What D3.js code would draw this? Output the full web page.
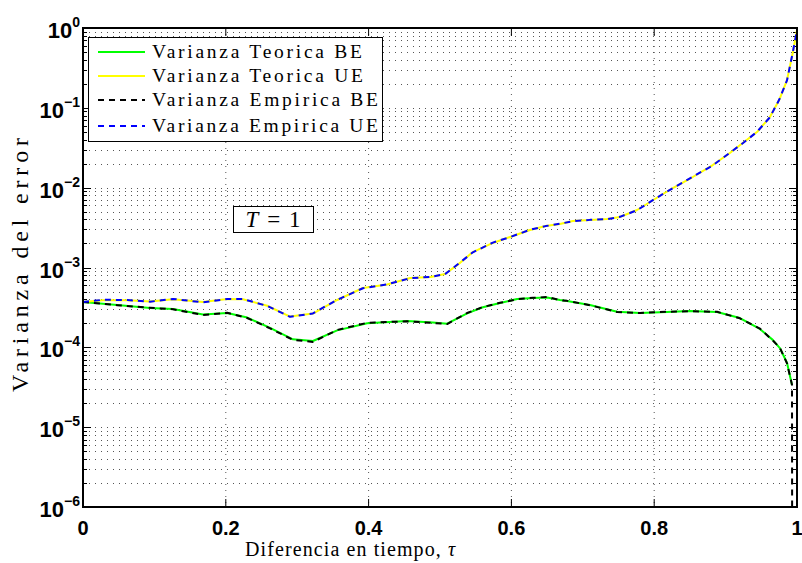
<!DOCTYPE html>
<html>
<head>
<meta charset="utf-8">
<script src="https://cdn.jsdelivr.net/npm/d3@7"></script>
<style>
  html, body { margin: 0; padding: 0; background: #fff; }
  svg { display: block; }
</style>
</head>
<body>
<svg id="chart" width="802" height="563"></svg>
<script>
// Diferencia en tiempo (tau) sample points
const tauTeoUE = [0.000, 0.028, 0.062, 0.094, 0.126, 0.168, 0.202, 0.224, 0.258, 0.290, 0.322, 0.356, 0.392, 0.426, 0.458, 0.487, 0.507, 0.524, 0.546, 0.574, 0.598, 0.626, 0.648, 0.668, 0.686, 0.710, 0.734, 0.752, 0.776, 0.801, 0.826, 0.854, 0.882, 0.906, 0.924, 0.944, 0.962, 0.975, 0.986, 0.994, 1.000];
const varTeoUE = [3.70e-4, 3.90e-4, 3.88e-4, 3.76e-4, 4.00e-4, 3.70e-4, 4.03e-4, 4.00e-4, 3.32e-4, 2.43e-4, 2.65e-4, 3.92e-4, 5.54e-4, 6.12e-4, 7.38e-4, 7.60e-4, 8.29e-4, 1.07e-3, 1.56e-3, 2.03e-3, 2.41e-3, 2.95e-3, 3.31e-3, 3.51e-3, 3.82e-3, 3.93e-3, 4.05e-3, 4.29e-3, 5.25e-3, 7.21e-3, 9.90e-3, 1.36e-2, 1.92e-2, 2.72e-2, 3.62e-2, 4.97e-2, 7.67e-2, 0.125, 0.223, 0.486, 0.944];
const varEmpUE = [3.70e-4, 3.94e-4, 3.92e-4, 3.73e-4, 4.04e-4, 3.66e-4, 4.03e-4, 4.03e-4, 3.30e-4, 2.41e-4, 2.66e-4, 3.94e-4, 5.50e-4, 6.15e-4, 7.35e-4, 7.62e-4, 8.25e-4, 1.08e-3, 1.55e-3, 2.05e-3, 2.40e-3, 2.97e-3, 3.30e-3, 3.53e-3, 3.80e-3, 3.95e-3, 4.03e-3, 4.31e-3, 5.22e-3, 7.25e-3, 9.85e-3, 1.37e-2, 1.90e-2, 2.74e-2, 3.60e-2, 5.00e-2, 7.60e-2, 0.126, 0.221, 0.490, 0.940];

const tauTeoBE = [0.000, 0.048, 0.094, 0.126, 0.168, 0.202, 0.230, 0.262, 0.294, 0.322, 0.356, 0.398, 0.454, 0.490, 0.510, 0.538, 0.560, 0.584, 0.608, 0.630, 0.650, 0.668, 0.678, 0.710, 0.748, 0.780, 0.818, 0.850, 0.888, 0.920, 0.948, 0.966, 0.976, 0.986, 0.993];
const varTeoBE = [3.70e-4, 3.39e-4, 3.11e-4, 3.02e-4, 2.58e-4, 2.69e-4, 2.36e-4, 1.75e-4, 1.26e-4, 1.20e-4, 1.63e-4, 2.00e-4, 2.14e-4, 2.04e-4, 1.98e-4, 2.66e-4, 3.18e-4, 3.59e-4, 4.03e-4, 4.15e-4, 4.22e-4, 3.92e-4, 3.80e-4, 3.39e-4, 2.79e-4, 2.70e-4, 2.77e-4, 2.85e-4, 2.77e-4, 2.33e-4, 1.70e-4, 1.24e-4, 9.8e-5, 6.4e-5, 3.37e-5];
// the empirical BE estimate collapses at the last step, so one more point is appended
const tauEmpBE = [0.000, 0.048, 0.094, 0.126, 0.168, 0.202, 0.230, 0.262, 0.294, 0.322, 0.356, 0.398, 0.454, 0.490, 0.510, 0.538, 0.560, 0.584, 0.608, 0.630, 0.650, 0.668, 0.678, 0.710, 0.748, 0.780, 0.818, 0.850, 0.888, 0.920, 0.948, 0.966, 0.976, 0.986, 0.993, 0.9935];
const varEmpBE = [3.70e-4, 3.37e-4, 3.13e-4, 3.00e-4, 2.54e-4, 2.71e-4, 2.33e-4, 1.73e-4, 1.24e-4, 1.17e-4, 1.65e-4, 2.03e-4, 2.12e-4, 2.02e-4, 1.96e-4, 2.69e-4, 3.20e-4, 3.61e-4, 4.00e-4, 4.17e-4, 4.27e-4, 3.90e-4, 3.82e-4, 3.37e-4, 2.77e-4, 2.69e-4, 2.79e-4, 2.83e-4, 2.79e-4, 2.31e-4, 1.72e-4, 1.22e-4, 9.9e-5, 6.3e-5, 3.40e-5, 1e-9];

const xTicks = [0, 0.2, 0.4, 0.6, 0.8, 1];
const xTickLabels = ["0", "0.2", "0.4", "0.6", "0.8", "1"];
const yExponents = [0, -1, -2, -3, -4, -5, -6];

const legendLabels = ["Varianza Teorica BE", "Varianza Teorica UE", "Varianza Empirica BE", "Varianza Empirica UE"];
const xLabel = "Diferencia en tiempo, ";
const yLabel = "Varianza del error";

const series = [
  { x: tauTeoBE, y: varTeoBE, color: "#00ff00", dash: null },
  { x: tauTeoUE, y: varTeoUE, color: "#ffff00", dash: null },
  { x: tauEmpBE, y: varEmpBE, color: "#000000", dash: "6,5" },
  { x: tauTeoUE, y: varEmpUE, color: "#0000ff", dash: "6,5" }
];

const svg = d3.select("#chart");
const plot = { left: 83, right: 797, top: 28, bottom: 507 };

const x = d3.scaleLinear().domain([0, 1]).range([plot.left, plot.right]);
const y = d3.scaleLog().domain([1e-6, 1]).range([plot.bottom, plot.top]);

svg.append("defs").append("clipPath").attr("id", "clip")
  .append("rect")
  .attr("x", plot.left).attr("y", plot.top)
  .attr("width", plot.right - plot.left).attr("height", plot.bottom - plot.top);

// dotted grid
const grid = svg.append("g")
  .attr("stroke", "#555").attr("stroke-width", 1)
  .attr("stroke-dasharray", "1,5").attr("fill", "none");

xTicks.slice(1, -1).forEach(t => {
  grid.append("line")
    .attr("x1", x(t)).attr("x2", x(t))
    .attr("y1", plot.top).attr("y2", plot.bottom);
});

const minorVals = [];
for (let e = -6; e < 0; e++) {
  for (let k = 1; k <= 9; k++) {
    const v = k * Math.pow(10, e);
    if (e === -6 && k === 1) continue;
    minorVals.push(v);
  }
}
minorVals.forEach(v => {
  grid.append("line")
    .attr("x1", plot.left).attr("x2", plot.right)
    .attr("y1", Math.round(y(v)) + 0.5).attr("y2", Math.round(y(v)) + 0.5);
});

// ticks on all four sides
const ticks = svg.append("g").attr("stroke", "#000").attr("stroke-width", 1);
xTicks.forEach(t => {
  ticks.append("line").attr("x1", x(t)).attr("x2", x(t)).attr("y1", plot.bottom).attr("y2", plot.bottom - 8);
  ticks.append("line").attr("x1", x(t)).attr("x2", x(t)).attr("y1", plot.top).attr("y2", plot.top + 8);
});
minorVals.forEach(v => {
  const major = Math.abs(Math.log10(v) - Math.round(Math.log10(v))) < 1e-9;
  const len = major ? 8 : 4;
  const yy = Math.round(y(v)) + 0.5;
  ticks.append("line").attr("x1", plot.left).attr("x2", plot.left + len).attr("y1", yy).attr("y2", yy);
  ticks.append("line").attr("x1", plot.right).attr("x2", plot.right - len).attr("y1", yy).attr("y2", yy);
});

// curves
const line = d3.line().x(d => x(d[0])).y(d => y(Math.max(d[1], 1e-9)));
const curves = svg.append("g").attr("clip-path", "url(#clip)");
series.forEach(s => {
  const pts = s.x.map((t, i) => [t, s.y[i]]);
  curves.append("path")
    .datum(pts)
    .attr("d", line)
    .attr("fill", "none")
    .attr("stroke", s.color)
    .attr("stroke-width", 2)
    .attr("stroke-linejoin", "round")
    .attr("stroke-dasharray", s.dash);
});

// axes box
svg.append("rect")
  .attr("x", plot.left).attr("y", plot.top)
  .attr("width", plot.right - plot.left).attr("height", plot.bottom - plot.top)
  .attr("fill", "none").attr("stroke", "#000").attr("stroke-width", 2);

// x tick labels
svg.append("g")
  .selectAll("text").data(xTicks).join("text")
  .attr("x", d => x(d)).attr("y", 535)
  .attr("text-anchor", "middle")
  .attr("font-family", "'Liberation Sans', Arial, sans-serif")
  .attr("font-weight", "bold").attr("font-size", 20)
  .text((d, i) => xTickLabels[i]);

// y tick labels 10^n
const yl = svg.append("g")
  .attr("font-family", "'Liberation Sans', Arial, sans-serif")
  .attr("font-weight", "bold");
yExponents.forEach(e => {
  const yy = y(Math.pow(10, e));
  const t = yl.append("text")
    .attr("x", 80).attr("y", yy + 10)
    .attr("text-anchor", "end");
  t.append("tspan").attr("font-size", 22).text("10");
  t.append("tspan").attr("font-size", 14).attr("dy", -11)
    .text(e === 0 ? "0" : "\u2212" + Math.abs(e));
});

// axis labels
const serif = "'Liberation Serif', 'Times New Roman', serif";
const xl = svg.append("text")
  .attr("x", 245).attr("y", 556)
  .attr("font-family", serif).attr("font-size", 20)
  .attr("letter-spacing", 1.1);
xl.append("tspan").text(xLabel);
xl.append("tspan").attr("font-style", "italic").text("\u03c4");

svg.append("text")
  .attr("transform", "translate(28,265) rotate(-90)")
  .attr("text-anchor", "middle")
  .attr("font-family", serif).attr("font-size", 24)
  .attr("textLength", 254).attr("lengthAdjust", "spacing")
  .text(yLabel);

// legend
const lg = svg.append("g");
lg.append("rect")
  .attr("x", 88.5).attr("y", 37.5).attr("width", 294).attr("height", 104)
  .attr("fill", "#fff").attr("stroke", "#000").attr("stroke-width", 1);
const rowY = [52, 76, 100, 126];
const textW = [210, 211, 226, 226];
legendLabels.forEach((lab, i) => {
  lg.append("line")
    .attr("x1", 98).attr("x2", 145).attr("y1", rowY[i]).attr("y2", rowY[i])
    .attr("stroke", series[i].color).attr("stroke-width", 2)
    .attr("stroke-dasharray", series[i].dash);
  lg.append("text")
    .attr("x", 152).attr("y", rowY[i] + 6)
    .attr("font-family", serif).attr("font-size", 19.5)
    .attr("textLength", textW[i]).attr("lengthAdjust", "spacing")
    .text(lab);
});

// annotation box
const ann = svg.append("g");
ann.append("rect")
  .attr("x", 233.5).attr("y", 206.5).attr("width", 80).attr("height", 26)
  .attr("fill", "#fff").attr("stroke", "#000").attr("stroke-width", 1);
const at = ann.append("text")
  .attr("x", 273).attr("y", 227).attr("text-anchor", "middle")
  .attr("font-family", serif).attr("font-size", 23)
  .attr("word-spacing", 3);
at.append("tspan").attr("font-style", "italic").text("T");
at.append("tspan").text(" = 1");
</script>
</body>
</html>
